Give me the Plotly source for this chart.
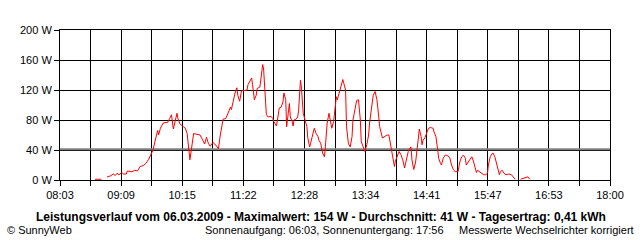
import plotly.graph_objects as go

# ---- data ----
times = ["08:41","08:48","08:50","08:52","08:54","08:57","09:01","09:03","09:05","09:07",
         "09:10","09:12","09:15","09:16","09:21","09:24","09:27","09:30","09:33","09:36",
         "09:39","09:41","09:44","09:46","09:48","09:49","09:50","09:52","09:55","09:57",
         "10:00","10:02","10:04","10:06","10:08","10:10","10:11","10:13","10:17","10:19",
         "10:21","10:22","10:23","10:24","10:26","10:28","10:31","10:35","10:38","10:40",
         "10:42","10:44","10:46","10:48","10:49","10:51","10:53","10:55","10:57","10:59",
         "11:00","11:03","11:06","11:08","11:09","11:11","11:13","11:15","11:16","11:18",
         "11:20","11:22","11:26","11:27","11:29","11:31","11:32","11:34","11:36","11:37",
         "11:40","11:42","11:43","11:44","11:45","11:47","11:49","11:52","11:54","11:55",
         "11:58","11:59","12:01","12:03","12:05","12:06","12:08","12:09","12:10","12:11",
         "12:12","12:13","12:15","12:16","12:17","12:19","12:21","12:22","12:24","12:25",
         "12:26","12:27","12:29","12:31","12:32","12:34","12:35","12:37","12:39","12:41",
         "12:43","12:44","12:46","12:48","12:50","12:51","12:53","12:55","12:56","12:58",
         "13:00","13:01","13:03","13:04","13:06","13:08","13:10","13:11","13:13","13:14",
         "13:16","13:18","13:20","13:21","13:23","13:25","13:27","13:29","13:30","13:32",
         "13:34","13:36","13:38","13:39","13:41","13:43","13:45","13:47","13:48","13:50",
         "13:53","13:56","13:58","14:00","14:02","14:04","14:06","14:07","14:09","14:11",
         "14:13","14:15","14:17","14:19","14:21","14:23","14:24","14:25","14:27","14:29",
         "14:31","14:32","14:33","14:35","14:36","14:37","14:39","14:41","14:43","14:45",
         "14:48","14:49","14:51","14:53","14:54","14:56","14:57","14:59","15:01","15:03",
         "15:06","15:08","15:10","15:12","15:15","15:17","15:19","15:21","15:23","15:24",
         "15:26","15:28","15:30","15:32","15:34","15:35","15:36","15:38","15:41","15:43",
         "15:45","15:47","15:48","15:50","15:52","15:53","15:55","15:57","15:59","16:00",
         "16:01","16:03","16:05","16:07","16:10","16:12","16:13","16:15","16:17","16:19",
         "16:23","16:25","16:28","16:30","16:31","16:33","16:35","16:52","16:54","16:56"]

power_w = [1,1,0,0,4,5,8,6,9,7,
           10,8,8,12,11,13,12,18,19,22,
           27,33,40,51,62,66,60,69,76,76,
           77,82,87,68,80,89,82,75,71,69,
           62,49,30,27,44,62,61,60,53,48,
           57,49,45,49,50,48,45,42,60,72,
           81,82,91,97,94,107,116,123,113,105,
           119,119,120,127,132,136,127,107,113,122,
           124,140,154,148,122,87,84,85,82,78,
           72,81,96,97,104,116,107,71,80,91,
           102,84,78,72,80,81,84,93,133,124,
           107,89,80,71,56,44,49,60,69,62,
           58,53,49,36,31,44,76,89,80,69,
           78,89,111,107,116,124,134,129,120,71,
           49,44,58,80,93,106,107,80,51,44,
           38,47,60,76,98,113,118,107,96,71,
           56,58,60,60,45,34,18,25,31,38,
           34,27,16,27,38,43,44,27,14,24,
           42,56,68,58,47,53,56,62,69,70,
           69,64,58,40,29,22,20,29,33,33,
           30,20,14,11,11,24,31,33,29,20,
           24,27,31,24,13,10,13,11,9,7,
           7,9,20,31,35,36,31,20,13,7,
           11,13,9,7,8,8,7,4,1,0,
           1,2,4,4,4,1,0,0,1,0]

average_w = 41
y_ticks = [0, 40, 80, 120, 160, 200]
y_tick_labels = ["0 W", "40 W", "80 W", "120 W", "160 W", "200 W"]
x_tick_labels = ["08:03", "09:09", "10:15", "11:22", "12:28", "13:34",
                 "14:41", "15:47", "16:53", "18:00"]
title_text = ("Leistungsverlauf vom 06.03.2009 - Maximalwert: 154 W - "
              "Durchschnitt: 41 W - Tagesertrag: 0,41 kWh")
footer_left = "© SunnyWeb"
footer_mid = "Sonnenaufgang: 06:03, Sonnenuntergang: 17:56"
footer_right = "Messwerte Wechselrichter korrigiert"

# ---- helpers ----
def to_min(s):
    h, m = s.split(":")
    return int(h) * 60 + int(m)

x_start = to_min(x_tick_labels[0])
x_end = to_min(x_tick_labels[-1])
n_major = len(x_tick_labels) - 1
step = (x_end - x_start) / (n_major * 2)
tickvals = [x_start + i * step for i in range(n_major * 2 + 1)]
ticktext = [x_tick_labels[i // 2] if i % 2 == 0 else "" for i in range(n_major * 2 + 1)]

x_vals = [to_min(t) for t in times]
# zero readings are not drawn (they sit on the axis in the original)
y_vals = [v if v > 0 else None for v in power_w]

FONT = "Liberation Sans, Arial, sans-serif"

fig = go.Figure()
# average line (grey, drawn above grid, below the power curve)
fig.add_trace(go.Scatter(x=[x_start, x_end], y=[average_w, average_w], mode="lines",
                         line=dict(color="#808080", width=2),
                         hoverinfo="skip", showlegend=False))
fig.add_trace(go.Scatter(x=x_vals, y=y_vals, mode="lines", connectgaps=False,
                         line=dict(color="#FF0000", width=1),
                         hoverinfo="skip", showlegend=False))

axis_common = dict(showline=True, mirror=True, linecolor="black", linewidth=1,
                   showgrid=True, gridcolor="black", gridwidth=1,
                   ticks="outside", ticklen=5, tickcolor="black", tickwidth=1,
                   zeroline=False, tickfont=dict(family=FONT, size=11, color="black"))

fig.update_xaxes(range=[x_start, x_end], tickmode="array", tickvals=tickvals,
                 ticktext=ticktext, **axis_common)
fig.update_yaxes(range=[0, 200], tickmode="array", tickvals=y_ticks,
                 ticktext=y_tick_labels, **axis_common)

ann_font = dict(family=FONT, size=11, color="black")
fig.add_annotation(text="<b>" + title_text + "</b>", xref="paper", yref="paper",
                   x=(321 - 60) / 550, y=-(217 - 180) / 150, xanchor="center",
                   yanchor="middle", showarrow=False,
                   font=dict(family=FONT, size=12, color="black"))
fig.add_annotation(text=footer_left, xref="paper", yref="paper",
                   x=(5 - 60) / 550, y=-(230 - 180) / 150, xanchor="left",
                   yanchor="middle", showarrow=False, font=ann_font)
fig.add_annotation(text=footer_mid, xref="paper", yref="paper",
                   x=(203 - 60) / 550, y=-(230 - 180) / 150, xanchor="left",
                   yanchor="middle", showarrow=False, font=ann_font)
fig.add_annotation(text=footer_right, xref="paper", yref="paper",
                   x=(636 - 60) / 550, y=-(230 - 180) / 150, xanchor="right",
                   yanchor="middle", showarrow=False, font=ann_font)

fig.update_layout(width=640, height=240,
                  margin=dict(l=60, r=30, t=30, b=60, pad=0),
                  paper_bgcolor="white", plot_bgcolor="white",
                  font=dict(family=FONT, size=11, color="black"),
                  showlegend=False)

fig.write_html("out.html", config={"displayModeBar": False})
